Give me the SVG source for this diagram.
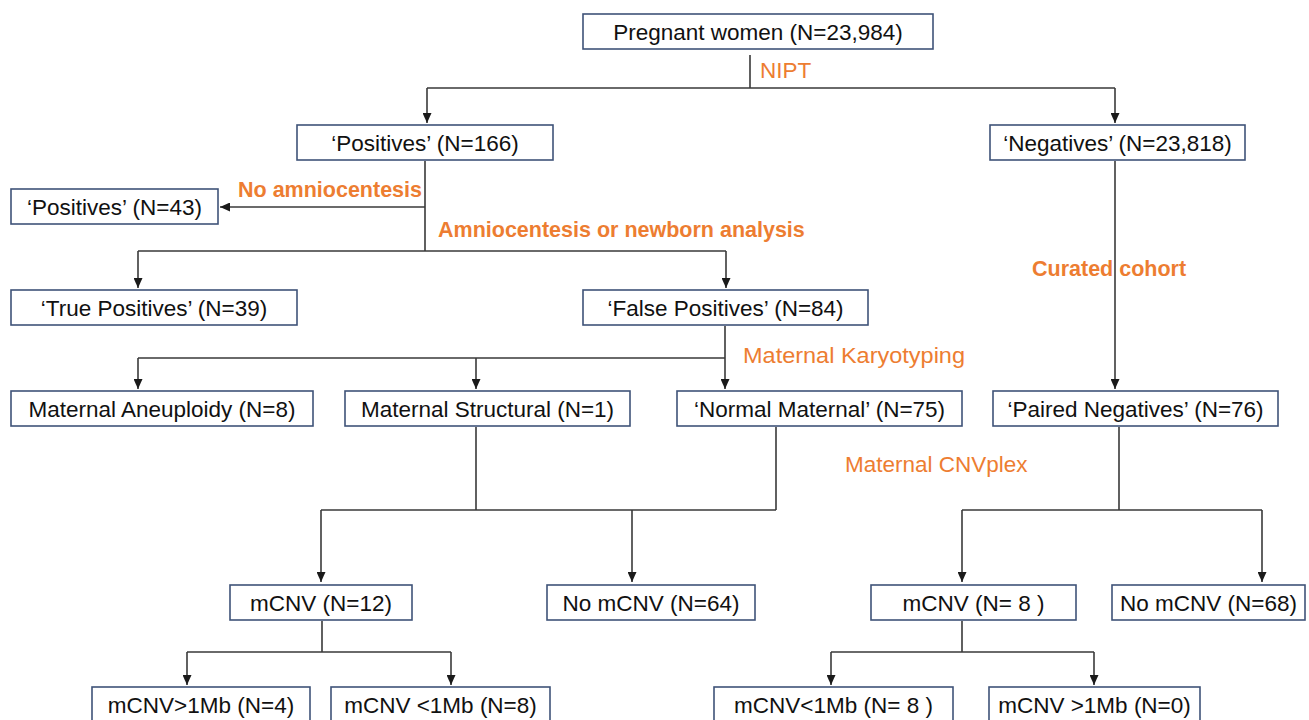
<svg xmlns="http://www.w3.org/2000/svg" width="1309" height="720" viewBox="0 0 1309 720">
<defs>
<style>
.box{fill:#fff;stroke:#3F5378;stroke-width:1.6}
.t{font-family:"Liberation Sans",Arial,sans-serif;font-size:22.5px;fill:#111;text-anchor:middle}
.lab{font-family:"Liberation Sans",Arial,sans-serif;font-size:22.5px;fill:#ED7D31}
.bl{font-weight:bold;font-size:21.5px}
.c{fill:none;stroke:#3A3A3A;stroke-width:1.6}
</style>
<marker id="ah" markerUnits="userSpaceOnUse" markerWidth="10" markerHeight="9" refX="10" refY="4.5" orient="auto">
<path d="M0,0 L10,4.5 L0,9 z" fill="#1a1a1a"/>
</marker>
</defs>
<rect width="1309" height="720" fill="#fff"/>
<g id="connectors">
<path class="c" d="M750,55 V88 M427,88 H1115"/>
<path class="c" d="M427,88 V123" marker-end="url(#ah)"/>
<path class="c" d="M1115,88 V123" marker-end="url(#ah)"/>
<path class="c" d="M425,161 V251 M138,251 H726"/>
<path class="c" d="M425,207 H220" marker-end="url(#ah)"/>
<path class="c" d="M138,251 V288" marker-end="url(#ah)"/>
<path class="c" d="M726,251 V288" marker-end="url(#ah)"/>
<path class="c" d="M1115,161 V389" marker-end="url(#ah)"/>
<path class="c" d="M725,326 V358 M138,358 H725"/>
<path class="c" d="M138,358 V389" marker-end="url(#ah)"/>
<path class="c" d="M476,358 V389" marker-end="url(#ah)"/>
<path class="c" d="M725,358 V389" marker-end="url(#ah)"/>
<path class="c" d="M476,427 V510 M776,427 V510 M321,510 H776"/>
<path class="c" d="M321,510 V582" marker-end="url(#ah)"/>
<path class="c" d="M632,510 V582" marker-end="url(#ah)"/>
<path class="c" d="M1119,427 V510 M962,510 H1262"/>
<path class="c" d="M962,510 V582" marker-end="url(#ah)"/>
<path class="c" d="M1262,510 V582" marker-end="url(#ah)"/>
<path class="c" d="M322,621 V652 M187,652 H451"/>
<path class="c" d="M187,652 V685" marker-end="url(#ah)"/>
<path class="c" d="M451,652 V685" marker-end="url(#ah)"/>
<path class="c" d="M962,621 V652 M831,652 H1094"/>
<path class="c" d="M831,652 V685" marker-end="url(#ah)"/>
<path class="c" d="M1094,652 V685" marker-end="url(#ah)"/>
</g>
<g id="labels">
<text class="lab" x="760" y="78">NIPT</text>
<text class="lab bl" x="238" y="197">No amniocentesis</text>
<text class="lab bl" x="438" y="237">Amniocentesis or newborn analysis</text>
<text class="lab bl" x="1032" y="276">Curated cohort</text>
<text class="lab" x="743" y="363" textLength="222" lengthAdjust="spacingAndGlyphs">Maternal Karyotyping</text>
<text class="lab" x="845" y="472">Maternal CNVplex</text>
</g>
<g id="n-pregnant"><rect class="box" x="583" y="14" width="350" height="35"/><text class="t" x="758" y="39.5">Pregnant women (N=23,984)</text></g>
<g id="n-pos166"><rect class="box" x="297" y="125" width="256" height="35"/><text class="t" x="425" y="150.5">‘Positives’ (N=166)</text></g>
<g id="n-neg"><rect class="box" x="990" y="125" width="255" height="35"/><text class="t" x="1117.5" y="150.5">‘Negatives’ (N=23,818)</text></g>
<g id="n-pos43"><rect class="box" x="11" y="189" width="207" height="35"/><text class="t" x="114.5" y="214.5">‘Positives’ (N=43)</text></g>
<g id="n-true"><rect class="box" x="11" y="290" width="286" height="35"/><text class="t" x="154" y="315.5">‘True Positives’ (N=39)</text></g>
<g id="n-false"><rect class="box" x="583" y="290" width="285" height="35"/><text class="t" x="725.5" y="315.5">‘False Positives’ (N=84)</text></g>
<g id="n-aneu"><rect class="box" x="11" y="391" width="302" height="35"/><text class="t" x="162" y="416.5">Maternal Aneuploidy (N=8)</text></g>
<g id="n-struct"><rect class="box" x="345" y="391" width="285" height="35"/><text class="t" x="487.5" y="416.5">Maternal Structural (N=1)</text></g>
<g id="n-normal"><rect class="box" x="677" y="391" width="285" height="35"/><text class="t" x="819.5" y="416.5">‘Normal Maternal’ (N=75)</text></g>
<g id="n-paired"><rect class="box" x="993" y="391" width="285" height="35"/><text class="t" x="1135.5" y="416.5">‘Paired Negatives’ (N=76)</text></g>
<g id="n-mcnv12"><rect class="box" x="230" y="585" width="182" height="35"/><text class="t" x="321" y="610.5">mCNV (N=12)</text></g>
<g id="n-nomcnv64"><rect class="box" x="547" y="585" width="208" height="35"/><text class="t" x="651" y="610.5">No mCNV (N=64)</text></g>
<g id="n-mcnv8"><rect class="box" x="871" y="585" width="205" height="35"/><text class="t" x="973.5" y="610.5">mCNV (N= 8 )</text></g>
<g id="n-nomcnv68"><rect class="box" x="1112" y="585" width="193" height="35"/><text class="t" x="1208.5" y="610.5">No mCNV (N=68)</text></g>
<g id="n-gt1-4"><rect class="box" x="92" y="687" width="218" height="40"/><text class="t" x="201" y="713">mCNV&gt;1Mb (N=4)</text></g>
<g id="n-lt1-8"><rect class="box" x="331" y="687" width="219" height="40"/><text class="t" x="440.5" y="713">mCNV &lt;1Mb (N=8)</text></g>
<g id="n-lt1-8b"><rect class="box" x="714" y="687" width="239" height="40"/><text class="t" x="833.5" y="713">mCNV&lt;1Mb (N= 8 )</text></g>
<g id="n-gt1-0"><rect class="box" x="989" y="687" width="211" height="40"/><text class="t" x="1094.5" y="713">mCNV &gt;1Mb (N=0)</text></g>
</svg>
